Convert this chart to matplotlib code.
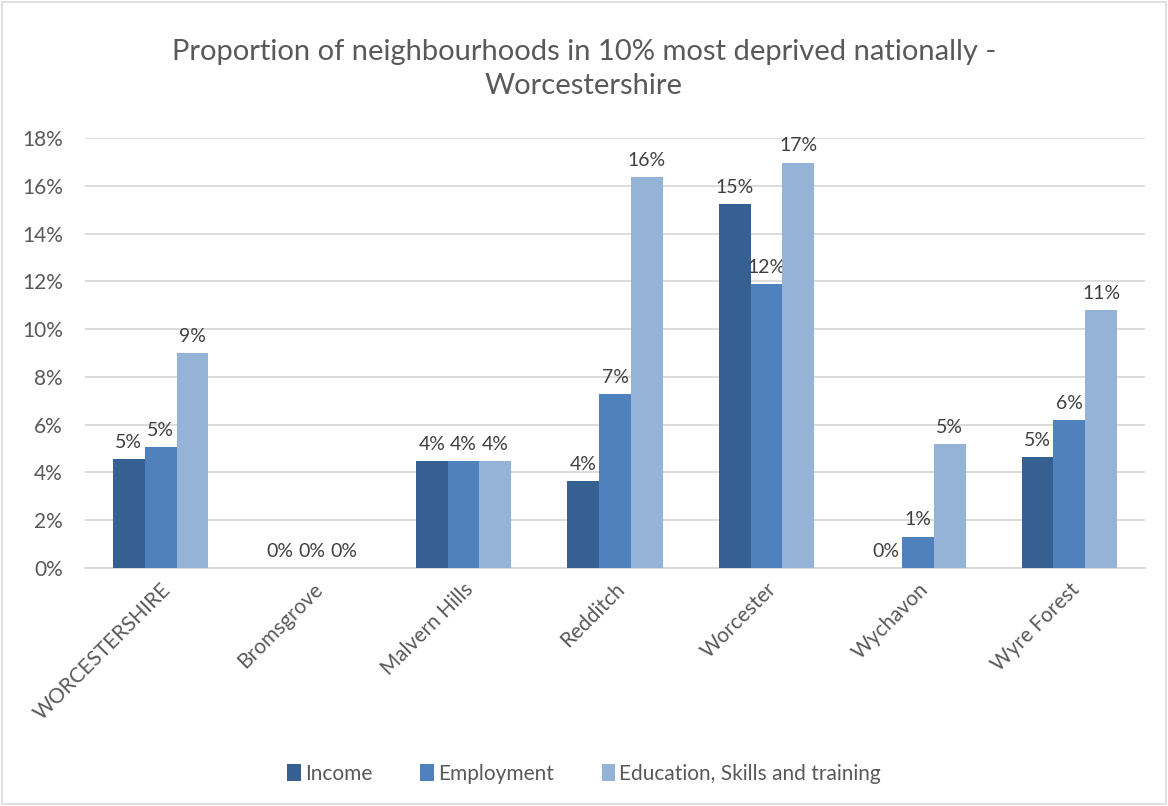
import matplotlib
matplotlib.use('Agg')
import matplotlib.pyplot as plt
import numpy as np
from matplotlib.patches import Rectangle

plt.rcParams['font.family'] = ['Lato', 'DejaVu Sans']

areas = ['WORCESTERSHIRE', 'Bromsgrove', 'Malvern Hills', 'Redditch',
         'Worcester', 'Wychavon', 'Wyre Forest']
series_names = ['Income', 'Employment', 'Education, Skills and training']
income = [4.55, 0.0, 4.47, 3.63, 15.24, 0.0, 4.64]
employment = [5.06, 0.0, 4.47, 7.27, 11.88, 1.31, 6.2]
education = [8.99, 0.0, 4.47, 16.36, 16.97, 5.19, 10.8]
colours = ['#366092', '#4F81BD', '#95B3D7']

TXT = '#595959'

fig = plt.figure(figsize=(11.68, 8.06), dpi=100)
ax = fig.add_axes([85 / 1168, 1 - 568 / 806, 1060 / 1168, 430 / 806])

# light frame round the whole chart
fig.patches.append(Rectangle((0.002, 0.002), 0.996, 0.996, transform=fig.transFigure,
                             fill=False, edgecolor='#D9D9D9', lw=1.2))

x = np.arange(len(areas))
w = 0.21
for i, (vals, col, name) in enumerate(zip([income, employment, education], colours, series_names)):
    bars = ax.bar(x + (i - 1) * w, vals, w, color=col, label=name, zorder=3)
    for b, v in zip(bars, vals):
        ax.text(b.get_x() + b.get_width() / 2, v + 0.35, '%d%%' % round(v),
                ha='center', va='bottom', fontsize=14, color='#404040')

ax.set_ylim(0, 18)
ax.set_xlim(-0.5, len(areas) - 0.5)
ax.set_yticks(np.arange(0, 19, 2))
ax.set_yticklabels(['%d%%' % t for t in range(0, 19, 2)])
ax.yaxis.grid(True, color='#D9D9D9', lw=1.3, zorder=0)
ax.tick_params(axis='y', length=0, labelsize=15, colors=TXT, pad=16)
ax.set_xticks(x)
ax.set_xticklabels(areas, rotation=45, ha='right', rotation_mode='anchor',
                   fontsize=15, color=TXT)
ax.tick_params(axis='x', length=0, pad=8)
for s in ['top', 'right', 'left']:
    ax.spines[s].set_visible(False)
ax.spines['bottom'].set_color('#D9D9D9')
ax.spines['bottom'].set_linewidth(1.3)

fig.text(0.5, 1 - 69 / 806, 'Proportion of neighbourhoods in 10% most deprived nationally -\nWorcestershire',
         ha='center', va='center', fontsize=21, color=TXT, linespacing=1.35)

fig.legend(loc='center', bbox_to_anchor=(0.5, 1 - 774 / 806), ncol=3, frameon=False,
           fontsize=15, handlelength=0.65, handleheight=0.85, handletextpad=0.2,
           columnspacing=2.3, labelcolor=TXT)

fig.savefig('out.png', dpi=100)
